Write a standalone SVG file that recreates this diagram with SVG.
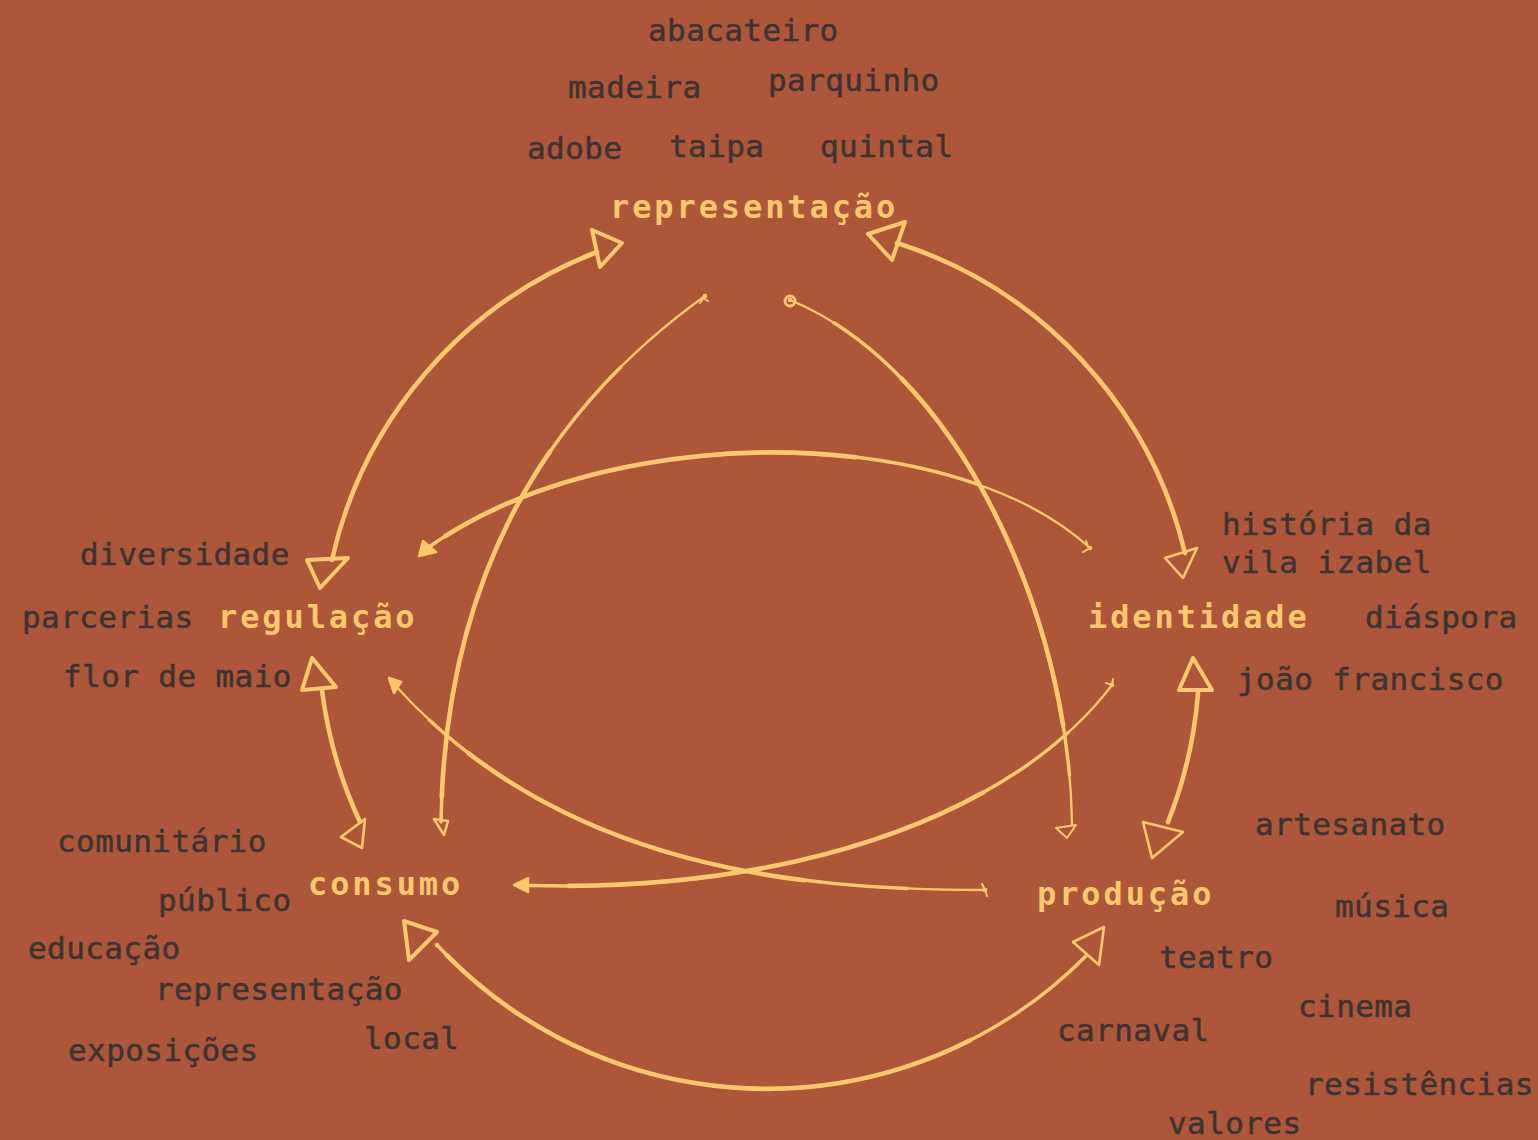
<svg xmlns="http://www.w3.org/2000/svg" width="1538" height="1140" viewBox="0 0 1538 1140">
<style>
.w{font-family:"DejaVu Sans Mono","Liberation Mono",monospace;font-size:31px;letter-spacing:0.4px;fill:#3b3434;stroke:#3b3434;stroke-width:0.5px}
.k{font-family:"DejaVu Sans Mono","Liberation Mono",monospace;font-size:32px;font-weight:bold;letter-spacing:2.9px;fill:#fac96c}
.ln{fill:none;stroke:#fac96c;stroke-width:4.6;stroke-linecap:round;stroke-linejoin:round}
.md{fill:none;stroke:#fac96c;stroke-width:3.5;stroke-linecap:round;stroke-linejoin:round}
.th{fill:none;stroke:#fac96c;stroke-width:2.3;stroke-linecap:round;stroke-linejoin:round}
.fi{fill:none;stroke:#fac96c;stroke-width:2;stroke-linecap:round;stroke-linejoin:round}
.ah{fill:none;stroke:#fac96c;stroke-width:4;stroke-linejoin:round}
.ah2{fill:none;stroke:#fac96c;stroke-width:2.6;stroke-linejoin:round}
.sh{fill:#fac96c;stroke:#fac96c;stroke-width:2.5;stroke-linejoin:round}
</style>
<rect width="1538" height="1140" fill="#ad5639"/>
<g id="connectors">
<path class="ln" d="M332,560 A430,430 0 0 1 597,252"/>
<polygon class="ah" points="307,560 348,558 320,588"/>
<polygon class="ah" points="592,230 622,243 600,267"/>
<path class="ln" d="M897,243 A430,430 0 0 1 1185,553"/>
<polygon class="ah" points="868,234 905,222 892,260"/>
<polygon class="ah2" points="1165,558 1197,548 1183,578"/>
<path class="ln" d="M1198,693 A440,440 0 0 1 1168,822"/>
<polygon class="ah" points="1193,658 1212,690 1179,690"/>
<polygon class="ah2" points="1143,822 1183,832 1152,858"/>
<path class="md" d="M437,945 A450,450 0 0 0 1087,955"/>
<path class="ln" pathLength="100" stroke-dasharray="0 2 78 30" d="M437,945 A450,450 0 0 0 1087,955"/>
<polygon class="ah" points="404,921 437,932 409,960"/>
<polygon class="ah2" points="1073,942 1104,927 1099,965"/>
<path class="ln" d="M322,690 A440,440 0 0 0 360,822"/>
<polygon class="ah" points="312,658 336,687 302,690"/>
<polygon class="ah2" points="341,837 365,819 362,848"/>
<path class="th" d="M705,296 C560,400 445,560 441,822"/>
<path class="md" pathLength="100" stroke-dasharray="0 18 82 10" d="M705,296 C560,400 445,560 441,822"/>
<path class="ln" pathLength="100" stroke-dasharray="0 36 60 10" d="M705,296 C560,400 445,560 441,822"/>
<path class="fi" d="M705,296 L700,303 M703,298 L708,301"/>
<polygon class="ah2" points="434,819 448,821 444,835"/>
<path class="th" d="M790,300 C960,370 1070,620 1072,825"/>
<path class="md" pathLength="100" stroke-dasharray="0 8 84 10" d="M790,300 C960,370 1070,620 1072,825"/>
<path class="ln" pathLength="100" stroke-dasharray="0 22 62 20" d="M790,300 C960,370 1070,620 1072,825"/>
<circle cx="790" cy="301" r="5" fill="none" stroke="#fac96c" stroke-width="3"/>
<polygon class="fi" points="1056,828 1076,825 1067,838"/>
<path class="th" d="M1090,548 C950,420 600,420 422,552"/>
<path class="md" pathLength="100" stroke-dasharray="0 18 82 10" d="M1090,548 C950,420 600,420 422,552"/>
<path class="ln" pathLength="100" stroke-dasharray="0 36 60 10" d="M1090,548 C950,420 600,420 422,552"/>
<polygon class="sh" points="419,556 423,541 436,552"/>
<path class="fi" d="M1090,548 L1083,552 M1088,547 L1086,541"/>
<path class="th" d="M985,890 C800,890 560,870 393,683"/>
<path class="md" pathLength="100" stroke-dasharray="0 12 80 20" d="M985,890 C800,890 560,870 393,683"/>
<path class="ln" pathLength="100" stroke-dasharray="0 28 56 20" d="M985,890 C800,890 560,870 393,683"/>
<polygon class="sh" points="389,678 401,682 394,693"/>
<path class="fi" d="M985,890 L987,896 M985,890 L982,884"/>
<path class="th" d="M1112,685 C1010,820 780,895 517,885"/>
<path class="md" pathLength="100" stroke-dasharray="0 10 88 10" d="M1112,685 C1010,820 780,895 517,885"/>
<path class="ln" pathLength="100" stroke-dasharray="0 26 66 10" d="M1112,685 C1010,820 780,895 517,885"/>
<polygon class="sh" points="514,885 528,878 528,892"/>
<path class="fi" d="M1112,685 L1106,683 M1112,685 L1113,679"/>
</g>
<g id="node-representacao">
<text class="k" x="610" y="218">representação</text>
<text class="w" x="648" y="41">abacateiro</text>
<text class="w" x="568" y="98">madeira</text>
<text class="w" x="768" y="91">parquinho</text>
<text class="w" x="527" y="159">adobe</text>
<text class="w" x="669" y="157">taipa</text>
<text class="w" x="820" y="157">quintal</text>
</g>
<g id="node-regulacao">
<text class="k" x="218" y="628">regulação</text>
<text class="w" x="80" y="565">diversidade</text>
<text class="w" x="22" y="628">parcerias</text>
<text class="w" x="63" y="687">flor de maio</text>
</g>
<g id="node-identidade">
<text class="k" x="1088" y="628">identidade</text>
<text class="w" x="1222" y="535">história da</text>
<text class="w" x="1222" y="573">vila izabel</text>
<text class="w" x="1365" y="628">diáspora</text>
<text class="w" x="1237" y="690">joão francisco</text>
</g>
<g id="node-consumo">
<text class="k" x="308" y="895">consumo</text>
<text class="w" x="57" y="852">comunitário</text>
<text class="w" x="158" y="911">público</text>
<text class="w" x="28" y="959">educação</text>
<text class="w" x="155" y="1000">representação</text>
<text class="w" x="364" y="1049">local</text>
<text class="w" x="68" y="1061">exposições</text>
</g>
<g id="node-producao">
<text class="k" x="1037" y="905">produção</text>
<text class="w" x="1255" y="835">artesanato</text>
<text class="w" x="1335" y="917">música</text>
<text class="w" x="1159" y="968">teatro</text>
<text class="w" x="1298" y="1017">cinema</text>
<text class="w" x="1057" y="1041">carnaval</text>
<text class="w" x="1305" y="1095">resistências</text>
<text class="w" x="1168" y="1134">valores</text>
</g>
</svg>
